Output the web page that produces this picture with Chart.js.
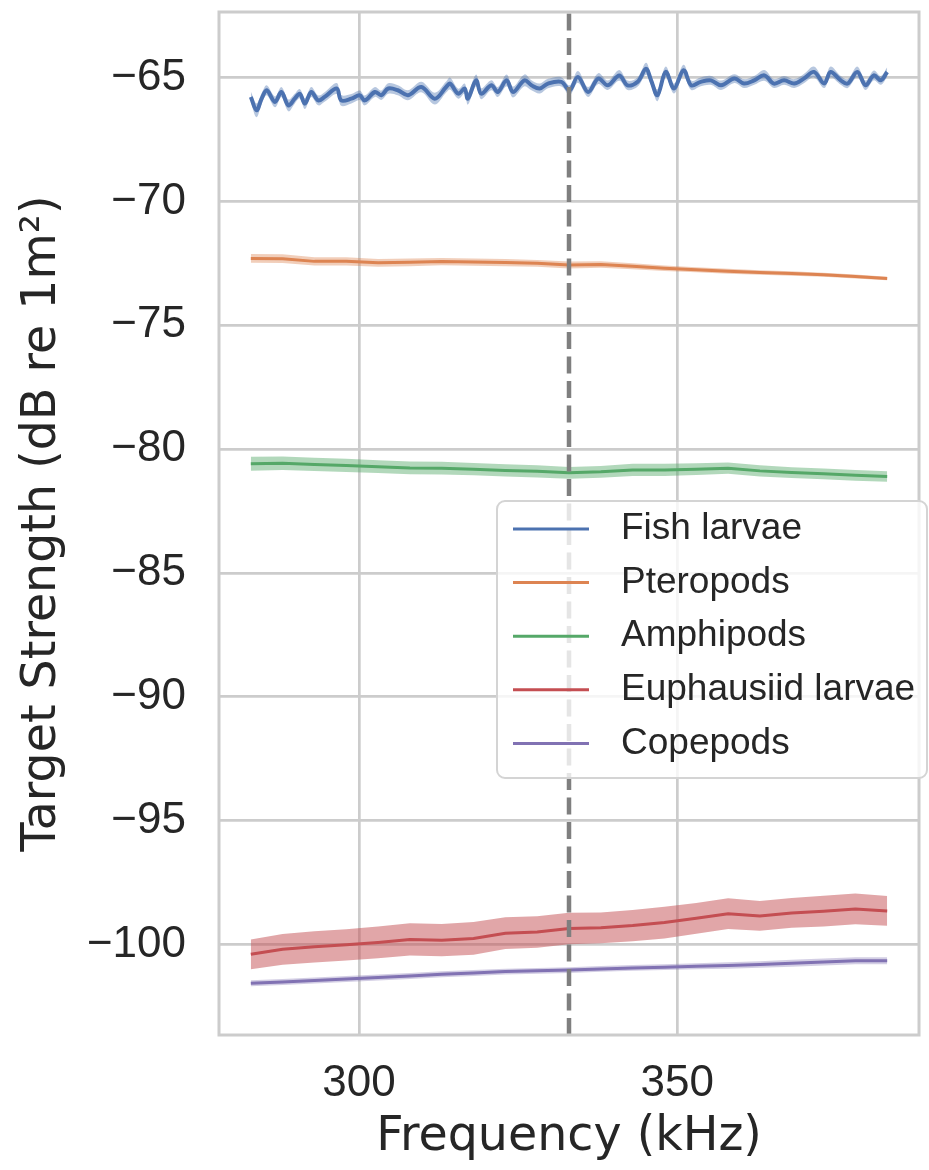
<!DOCTYPE html>
<html>
<head>
<meta charset="utf-8">
<script src="https://cdn.jsdelivr.net/npm/chart.js@4.4.0/dist/chart.umd.min.js"></script>
<style>
  html, body { margin: 0; padding: 0; background: #ffffff; }
  #tsChart { display: block; }
</style>
</head>
<body>
<canvas id="tsChart" width="929" height="1170"></canvas>
<script>
// -----Data
  // Fish larvae (wiggly, sampled finer)
  var fishFreq = [283.0, 283.9, 284.7, 285.5, 286.8, 287.8, 288.9, 289.9, 290.7, 291.5,
    292.5, 293.6, 294.6, 296.5, 297.2, 298.8, 300.1, 300.9, 302.5, 303.5,
    304.6, 306.1, 307.7, 309.8, 311.9, 313.7, 314.3, 315.6, 316.6, 317.1,
    318.4, 319.2, 320.8, 321.8, 323.2, 324.2, 326.0, 327.1, 328.4, 329.7,
    331.8, 333.1, 334.4, 336.0, 337.6, 339.1, 340.9, 342.2, 343.8, 345.1,
    345.9, 346.9, 348.2, 349.5, 351.0, 352.2, 353.7, 355.3, 356.9, 359.0,
    360.5, 362.1, 363.7, 365.2, 366.8, 368.4, 369.9, 371.5, 373.1, 374.1,
    375.7, 376.8, 378.3, 379.6, 380.9, 382.0, 383.0]
  var fishTS = [-65.78, -66.32, -65.85, -65.51, -65.98, -65.58, -66.12, -65.85, -65.65, -66.05,
    -65.58, -65.92, -65.78, -65.44, -65.92, -65.85, -65.71, -65.92, -65.58, -65.71,
    -65.44, -65.51, -65.71, -65.38, -65.85, -65.38, -65.24, -65.65, -65.44, -65.85,
    -65.11, -65.65, -65.31, -65.58, -65.11, -65.58, -65.11, -65.31, -65.44, -65.24,
    -65.17, -65.51, -64.97, -65.58, -65.04, -65.31, -64.91, -65.31, -65.17, -64.64,
    -65.11, -65.71, -64.77, -65.44, -64.70, -65.31, -65.17, -65.11, -65.31, -65.04,
    -65.24, -65.11, -64.91, -65.24, -65.11, -65.24, -65.04, -64.77, -65.24, -64.77,
    -65.11, -65.24, -64.77, -65.31, -64.91, -65.11, -64.77]
  var fishSpread = [0.22, 0.28, 0.22, 0.20, 0.22, 0.20, 0.24, 0.20, 0.19, 0.22,
    0.20, 0.20, 0.19, 0.22, 0.22, 0.19, 0.19, 0.20, 0.20, 0.19,
    0.21, 0.20, 0.20, 0.21, 0.24, 0.22, 0.24, 0.20, 0.20, 0.24,
    0.24, 0.22, 0.20, 0.20, 0.24, 0.22, 0.24, 0.20, 0.20, 0.19,
    0.19, 0.20, 0.24, 0.20, 0.22, 0.19, 0.22, 0.19, 0.19, 0.24,
    0.20, 0.24, 0.22, 0.20, 0.22, 0.19, 0.18, 0.18, 0.19, 0.18,
    0.18, 0.18, 0.22, 0.18, 0.18, 0.18, 0.19, 0.22, 0.18, 0.22,
    0.18, 0.18, 0.22, 0.19, 0.20, 0.18, 0.19]

  // The other four groups (smooth, every 5 kHz)
  var freq = [283, 288, 293, 298, 303, 308, 313, 318, 323, 328, 333,
    338, 343, 348, 353, 358, 363, 368, 373, 378, 383]
  var pteropodTS = [-72.30, -72.31, -72.42, -72.42, -72.48, -72.46, -72.43, -72.45, -72.47, -72.50, -72.57,
    -72.55, -72.62, -72.70, -72.76, -72.82, -72.87, -72.91, -72.96, -73.03, -73.11]
  var pteropodSpread = [0.18, 0.18, 0.17, 0.17, 0.16, 0.16, 0.15, 0.15, 0.15, 0.14, 0.14,
    0.13, 0.12, 0.11, 0.10, 0.10, 0.09, 0.09, 0.08, 0.08, 0.07]
  var amphipodTS = [-80.59, -80.57, -80.62, -80.66, -80.71, -80.76, -80.77, -80.81, -80.86, -80.90, -80.96,
    -80.92, -80.84, -80.84, -80.81, -80.77, -80.88, -80.95, -81.00, -81.06, -81.11]
  var amphipodSpread = [0.28, 0.27, 0.27, 0.27, 0.26, 0.26, 0.26, 0.25, 0.25, 0.25, 0.24,
    0.24, 0.25, 0.25, 0.24, 0.23, 0.23, 0.22, 0.22, 0.22, 0.21]
  var euphausiidTS = [-100.40, -100.20, -100.10, -100.02, -99.92, -99.80, -99.83, -99.76, -99.55, -99.50, -99.36,
    -99.33, -99.24, -99.12, -98.95, -98.76, -98.85, -98.73, -98.66, -98.57, -98.65]
  var euphausiidSpread = [0.60, 0.62, 0.63, 0.63, 0.64, 0.65, 0.65, 0.66, 0.64, 0.64, 0.64,
    0.62, 0.63, 0.64, 0.62, 0.62, 0.60, 0.60, 0.62, 0.62, 0.60]
  var copepodTS = [-101.57, -101.52, -101.46, -101.40, -101.34, -101.28, -101.21, -101.16, -101.10, -101.07, -101.04,
    -100.99, -100.95, -100.92, -100.88, -100.85, -100.81, -100.76, -100.71, -100.66, -100.66]
  var copepodSpread = [0.12, 0.12, 0.12, 0.12, 0.12, 0.12, 0.12, 0.12, 0.12, 0.12, 0.12,
    0.12, 0.12, 0.12, 0.12, 0.13, 0.13, 0.14, 0.14, 0.14, 0.14]

  var groupNames = ['Fish larvae', 'Pteropods', 'Amphipods', 'Euphausiid larvae', 'Copepods']
  var xTicks = [300, 350]
  var yTicks = [-65, -70, -75, -80, -85, -90, -95, -100]
  var cutFreq = 333

// -----Look
  var colors = ['#4c72b0', '#dd8452', '#55a868', '#c44e52', '#8172b3']
  var bandAlpha = [0.4, 0.4, 0.45, 0.5, 0.35]
  var lineWidths = [4, 3, 3, 3, 3]
  var xMin = 278, xMax = 388
  var yMin = -103.66, yMax = -62.35
  var textColor = '#262626'
  var gridColor = '#cccccc'

  function hexToRgba(hex, a) {
    var r = parseInt(hex.slice(1, 3), 16)
    var g = parseInt(hex.slice(3, 5), 16)
    var b = parseInt(hex.slice(5, 7), 16)
    return 'rgba(' + r + ',' + g + ',' + b + ',' + a + ')'
  }

  function points(xs, ys) {
    return xs.map(function(x, i) { return {x: x, y: ys[i]} })
  }

  function shifted(ys, spread, sign) {
    return ys.map(function(y, i) { return y + sign * spread[i] })
  }

// -----Datasets
  var groups = [
    {f: fishFreq, v: fishTS, s: fishSpread},
    {f: freq, v: pteropodTS, s: pteropodSpread},
    {f: freq, v: amphipodTS, s: amphipodSpread},
    {f: freq, v: euphausiidTS, s: euphausiidSpread},
    {f: freq, v: copepodTS, s: copepodSpread}
  ]

  var datasets = []
  // dashed marker line first so it ends up on top
  datasets.push({
    label: 'cut',
    data: [{x: cutFreq, y: yMin}, {x: cutFreq, y: yMax}],
    borderColor: '#7f7f7f',
    borderWidth: 4.5,
    borderDash: [17, 7.5],
    pointRadius: 0,
    fill: false,
    order: 0
  })
  groups.forEach(function(g, k) {
    var lowIndex = datasets.length
    var tension = k === 0 ? 0.35 : 0
    datasets.push({
      label: groupNames[k] + ' low',
      data: points(g.f, shifted(g.v, g.s, -1)),
      borderWidth: 0,
      borderColor: 'rgba(0,0,0,0)',
      pointRadius: 0,
      tension: tension,
      fill: false,
      order: 2
    })
    datasets.push({
      label: groupNames[k] + ' high',
      data: points(g.f, shifted(g.v, g.s, 1)),
      borderWidth: 0,
      borderColor: 'rgba(0,0,0,0)',
      backgroundColor: hexToRgba(colors[k], bandAlpha[k]),
      pointRadius: 0,
      tension: tension,
      fill: lowIndex,
      order: 2
    })
    datasets.push({
      label: groupNames[k],
      data: points(g.f, g.v),
      borderColor: colors[k],
      borderWidth: lineWidths[k],
      pointRadius: 0,
      tension: tension,
      fill: false,
      order: 1,
      isSeries: true
    })
  })

// -----Plugins
  // frame round the axes, like the seaborn spines
  var framePlugin = {
    id: 'frame',
    afterDatasetsDraw: function(chart) {
      var a = chart.chartArea
      var ctx = chart.ctx
      ctx.save()
      ctx.strokeStyle = gridColor
      ctx.lineWidth = 3
      ctx.strokeRect(a.left, a.top, a.right - a.left, a.bottom - a.top)
      ctx.restore()
    }
  }

  // boxed legend sitting over the right half
  var legendPlugin = {
    id: 'boxLegend',
    afterDraw: function(chart) {
      var ctx = chart.ctx
      var a = chart.chartArea
      var x0 = a.left + 278, y0 = a.top + 489
      var w = 430, h = 277, r = 8
      ctx.save()
      ctx.beginPath()
      ctx.moveTo(x0 + r, y0)
      ctx.arcTo(x0 + w, y0, x0 + w, y0 + h, r)
      ctx.arcTo(x0 + w, y0 + h, x0, y0 + h, r)
      ctx.arcTo(x0, y0 + h, x0, y0, r)
      ctx.arcTo(x0, y0, x0 + w, y0, r)
      ctx.closePath()
      ctx.fillStyle = 'rgba(255,255,255,0.8)'
      ctx.fill()
      ctx.strokeStyle = '#d4d4d4'
      ctx.lineWidth = 2
      ctx.stroke()

      var series = chart.data.datasets.filter(function(d) { return d.isSeries })
      ctx.font = '37px "Liberation Sans", Arial, sans-serif'
      ctx.textBaseline = 'middle'
      ctx.textAlign = 'left'
      series.forEach(function(d, i) {
        var y = y0 + 28 + i * 53.6
        ctx.beginPath()
        ctx.moveTo(x0 + 16, y)
        ctx.lineTo(x0 + 92, y)
        ctx.strokeStyle = d.borderColor
        ctx.lineWidth = 3
        ctx.stroke()
        ctx.fillStyle = textColor
        ctx.fillText(d.label, x0 + 124, y)
      })
      ctx.restore()
    }
  }

// -----Chart
  var ctx = document.getElementById('tsChart')
  var tsChart = new Chart(ctx, {
    type: 'line',
    data: { datasets: datasets },
    options: {
      responsive: false,
      devicePixelRatio: 1,
      animation: false,
      layout: { padding: { left: 0, top: 12, right: 10, bottom: 0 } },
      plugins: {
        legend: { display: false },
        tooltip: { enabled: false },
        filler: { propagate: false }
      },
      scales: {
        x: {
          type: 'linear',
          min: xMin,
          max: xMax,
          afterBuildTicks: function(scale) {
            scale.ticks = xTicks.map(function(v) { return {value: v} })
          },
          afterFit: function(scale) {
            scale.height = 135
            scale.paddingLeft = 0
            scale.paddingRight = 0
          },
          ticks: {
            padding: 22,
            color: textColor,
            font: { family: '"Liberation Sans", Arial, sans-serif', size: 44 },
            maxRotation: 0,
            callback: function(v) { return String(v) }
          },
          grid: { color: gridColor, lineWidth: 2.7, drawTicks: false },
          border: { display: false },
          title: {
            display: true,
            text: 'Frequency (kHz)',
            color: textColor,
            font: { family: '"DejaVu Sans", sans-serif', size: 47.5 },
            padding: { top: 0, bottom: 4 }
          }
        },
        y: {
          type: 'linear',
          min: yMin,
          max: yMax,
          afterBuildTicks: function(scale) {
            scale.ticks = yTicks.map(function(v) { return {value: v} })
          },
          afterFit: function(scale) {
            scale.width = 219
            scale.paddingTop = 0
            scale.paddingBottom = 0
          },
          ticks: {
            padding: 33,
            color: textColor,
            font: { family: '"Liberation Sans", Arial, sans-serif', size: 44 },
            callback: function(v) { return v < 0 ? '\u2212' + Math.abs(v) : String(v) }
          },
          grid: { color: gridColor, lineWidth: 2.7, drawTicks: false },
          border: { display: false },
          title: {
            display: true,
            text: 'Target Strength (dB re 1m\u00b2)',
            color: textColor,
            font: { family: '"DejaVu Sans", sans-serif', size: 47.5 },
            padding: { top: 14, bottom: 0 }
          }
        }
      }
    },
    plugins: [framePlugin, legendPlugin]
  })
</script>
</body>
</html>
